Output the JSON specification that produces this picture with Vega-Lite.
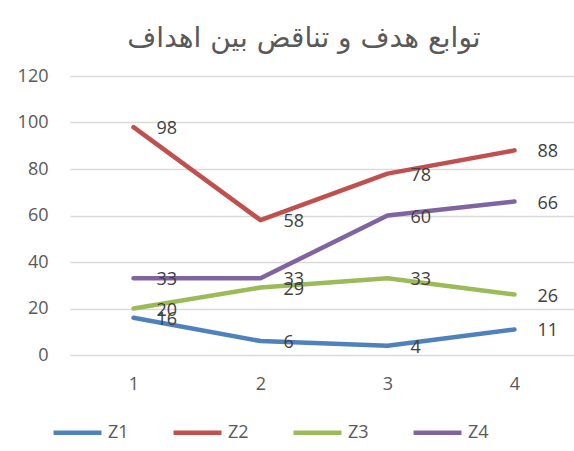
{
  "$schema": "https://vega.github.io/schema/vega-lite/v6.json",
  "width": 508,
  "height": 279,
  "autosize": {"type": "none"},
  "padding": {"left": 70, "top": 76, "right": 0, "bottom": 96},
  "background": "white",
  "title": {
    "text": "توابع هدف و تناقض بین اهداف",
    "font": "DejaVu Sans",
    "fontSize": 28,
    "fontWeight": "normal",
    "color": "#595959",
    "anchor": "middle",
    "dx": -20,
    "offset": 14
  },
  "config": {
    "view": {"stroke": null},
    "axis": {"labelFont": "Open Sans", "labelColor": "#595959", "labelFontSize": 18}
  },
  "data": {
    "values": [
      {"x": "1", "s": "Z1", "v": 16}, {"x": "2", "s": "Z1", "v": 6}, {"x": "3", "s": "Z1", "v": 4}, {"x": "4", "s": "Z1", "v": 11},
      {"x": "1", "s": "Z2", "v": 98}, {"x": "2", "s": "Z2", "v": 58}, {"x": "3", "s": "Z2", "v": 78}, {"x": "4", "s": "Z2", "v": 88},
      {"x": "1", "s": "Z3", "v": 20}, {"x": "2", "s": "Z3", "v": 29}, {"x": "3", "s": "Z3", "v": 33}, {"x": "4", "s": "Z3", "v": 26},
      {"x": "1", "s": "Z4", "v": 33}, {"x": "2", "s": "Z4", "v": 33}, {"x": "3", "s": "Z4", "v": 60}, {"x": "4", "s": "Z4", "v": 66}
    ]
  },
  "encoding": {
    "x": {"field": "x", "type": "ordinal", "scale": {"type": "point", "padding": 0.5},
      "axis": {"title": null, "labelAngle": 0, "domain": false, "ticks": false, "grid": false, "labelPadding": 20}},
    "y": {"field": "v", "type": "quantitative", "scale": {"domain": [0, 120]},
      "axis": {"title": null, "values": [0, 20, 40, 60, 80, 100, 120], "domain": false, "ticks": false, "gridColor": "#D9D9D9", "gridWidth": 1.3, "labelPadding": 22}},
    "color": {"field": "s", "type": "nominal",
      "scale": {"domain": ["Z1", "Z2", "Z3", "Z4"], "range": ["#4F81BD", "#C0504D", "#9BBB59", "#8064A2"]},
      "legend": {"orient": "none", "legendX": -19, "legendY": 330, "direction": "horizontal", "title": null,
        "symbolType": "stroke", "symbolStrokeWidth": 4.5, "symbolSize": 2300, "labelFont": "Open Sans", "labelFontSize": 18, "labelColor": "#595959", "columnPadding": 35, "labelOffset": 4}}
  },
  "layer": [
    {"mark": {"type": "line", "strokeWidth": 4.5, "strokeCap": "round", "strokeJoin": "round"}},
    {"mark": {"type": "text", "align": "left", "dx": 23, "dy": 2, "fontSize": 18, "font": "Open Sans", "color": "#404040"},
      "encoding": {"text": {"field": "v", "type": "quantitative"}, "color": {"value": "#404040"}}}
  ]
}
